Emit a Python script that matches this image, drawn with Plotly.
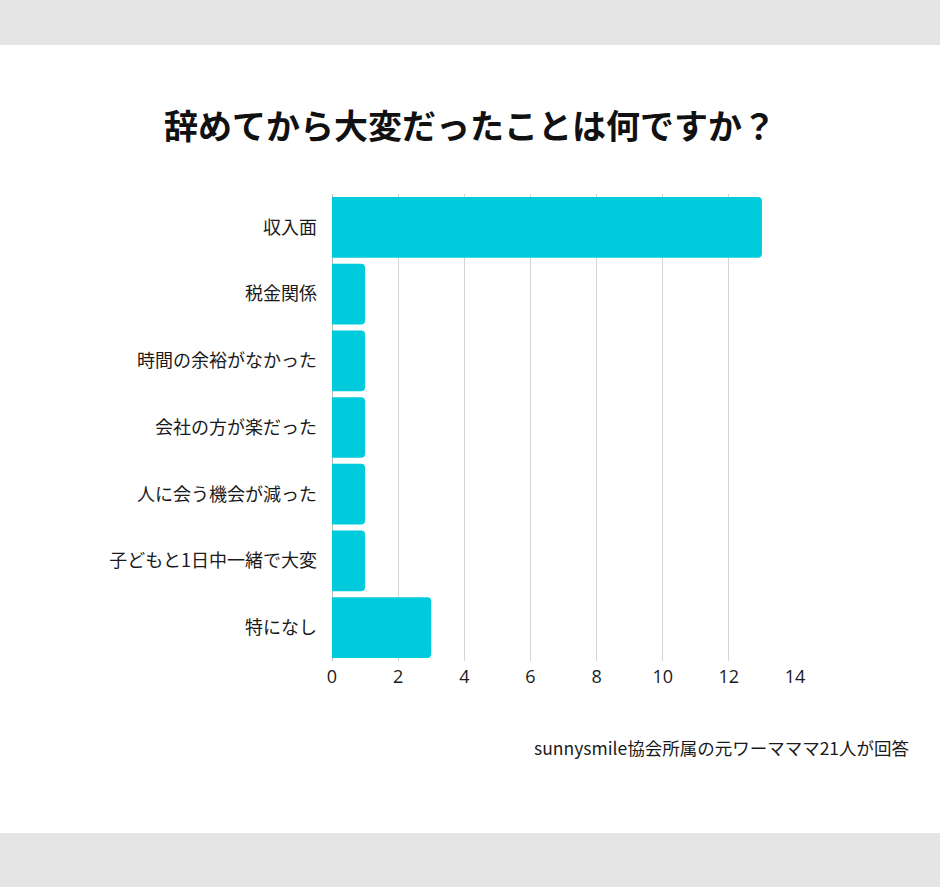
import plotly.graph_objects as go

categories = ["収入面", "税金関係", "時間の余裕がなかった", "会社の方が楽だった",
              "人に会う機会が減った", "子どもと1日中一緒で大変", "特になし"]
values = [13, 1, 1, 1, 1, 1, 3]
x_ticks = [0, 2, 4, 6, 8, 10, 12, 14]

title_text = "辞めてから大変だったことは何ですか？"
note_text = "sunnysmile協会所属の元ワーマママ21人が回答"

BAR = "#00CBDC"
FONT = "Noto Sans CJK JP"

fig = go.Figure(go.Bar(
    x=values, y=categories, orientation="h",
    marker=dict(color=BAR, line=dict(width=0)),
    hoverinfo="skip",
))

W, H = 940, 887
L, R, T, B = 332, 795, 194, 661

def py(p):
    return (B - p) / (B - T)

fig.update_layout(
    width=W, height=H,
    margin=dict(l=L, r=W - R, t=T, b=H - B, pad=0),
    paper_bgcolor="white", plot_bgcolor="white",
    bargap=0.09,
    barcornerradius=4,
    showlegend=False,
    font=dict(family=FONT, color="#1a1a1a"),
    title=dict(text=f"<b>{title_text}</b>", x=0.5, xref="container", xanchor="center",
               y=1 - 127 / H, yref="container", yanchor="middle",
               font=dict(size=34, color="#111111", family=FONT)),
    xaxis=dict(range=[0, 14], tickvals=x_ticks, showgrid=True, gridcolor="#d4d4d4",
               gridwidth=1, zeroline=True, zerolinecolor="#bdbdbd", zerolinewidth=1,
               showline=False, ticks="",
               tickfont=dict(size=18, family="Open Sans", color="#1a1a1a"),
               ticklabelstandoff=3, fixedrange=True),
    yaxis=dict(autorange="reversed", showgrid=False, zeroline=False, showline=False, ticks="",
               tickfont=dict(size=18, family=FONT, color="#1a1a1a"),
               ticklabelstandoff=14, fixedrange=True),
    shapes=[
        dict(type="rect", xref="paper", yref="paper", x0=-1.5, x1=2.5, y0=py(45), y1=py(-5),
             fillcolor="#e5e5e5", line=dict(width=0), layer="below"),
        dict(type="rect", xref="paper", yref="paper", x0=-1.5, x1=2.5, y0=py(H + 5), y1=py(833),
             fillcolor="#e5e5e5", line=dict(width=0), layer="below"),
    ],
    annotations=[
        dict(text=note_text, xref="paper", yref="paper", x=(912 - L) / (R - L), y=py(747),
             xanchor="right", yanchor="middle", showarrow=False,
             font=dict(size=17.5, family=FONT, color="#1a1a1a")),
    ],
)

fig.write_html("out.html", config={"displayModeBar": False},
               post_script="document.body.style.margin='0';document.body.style.overflow='hidden';")
